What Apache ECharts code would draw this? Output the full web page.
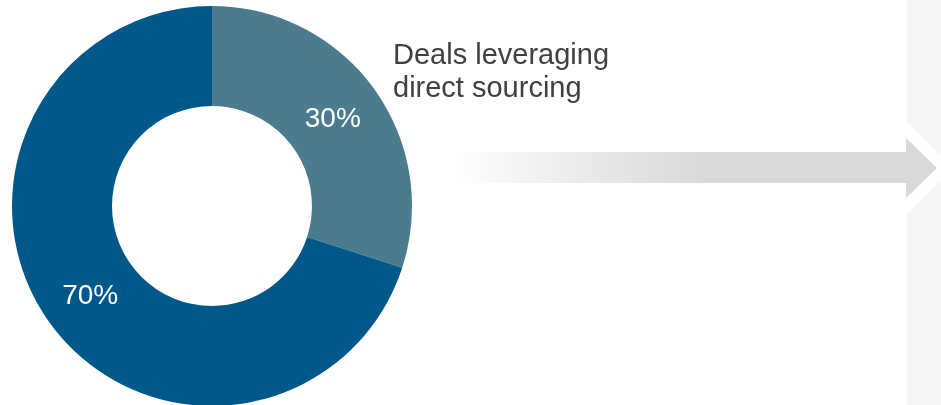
<!DOCTYPE html>
<html>
<head>
<meta charset="utf-8">
<style>
  html, body { margin: 0; padding: 0; background: #ffffff; }
  #chart { width: 941px; height: 405px; }
</style>
<script src="https://cdn.jsdelivr.net/npm/echarts@6/dist/echarts.min.js"></script>
</head>
<body>
<div id="chart"></div>
<script>
// Share of deals by sourcing route
const categories = ['Deals leveraging direct sourcing', 'Other deals'];
const shares = [30, 70];
const sliceColors = ['#4b7b8f', '#00588a'];
const labelNudges = [[-3, 3], [2, 0]];
const calloutLines = ['Deals leveraging', 'direct sourcing'];

const FONT = '"Liberation Sans", Arial, Helvetica, sans-serif';

const chart = echarts.init(document.getElementById('chart'), null, { renderer: 'canvas' });

chart.setOption({
  animation: false,
  backgroundColor: '#ffffff',
  graphic: [
    // light side panel on the right
    { type: 'rect', z: 0, shape: { x: 907, y: 0, width: 34, height: 405 }, style: { fill: '#f5f5f5' } },
    // white halo behind the arrow head
    { type: 'polygon', z: 1, shape: { points: [[906, 121], [953, 168], [906, 215]] }, style: { fill: '#ffffff' } },
    // arrow
    {
      type: 'polygon', z: 2,
      shape: { points: [[455, 152], [906, 152], [906, 138], [937, 168], [906, 198], [906, 183], [455, 183]] },
      style: {
        fill: new echarts.graphic.LinearGradient(0, 0, 1, 0, [
          { offset: 0, color: '#ffffff' },
          { offset: 0.25, color: '#ebebeb' },
          { offset: 0.53, color: '#d9d9d9' },
          { offset: 1, color: '#d9d9d9' }
        ])
      }
    },
    // callout text
    { type: 'text', z: 3, left: 393, top: 41, style: { text: calloutLines[0], font: '29px ' + FONT, fill: '#404040' } },
    { type: 'text', z: 3, left: 393, top: 74, style: { text: calloutLines[1], font: '29px ' + FONT, fill: '#404040' } }
  ],
  series: [{
    type: 'pie',
    center: [212, 206],
    radius: [100, 200],
    startAngle: 90,
    clockwise: true,
    avoidLabelOverlap: false,
    silent: true,
    label: {
      show: true,
      position: 'inside',
      formatter: '{c}%',
      color: '#ffffff',
      fontSize: 28,
      fontFamily: FONT
    },
    labelLine: { show: false },
    itemStyle: { borderWidth: 0 },
    data: categories.map((name, i) => ({
      name: name,
      value: shares[i],
      itemStyle: { color: sliceColors[i] },
      label: { offset: labelNudges[i] }
    }))
  }]
});
</script>
</body>
</html>
